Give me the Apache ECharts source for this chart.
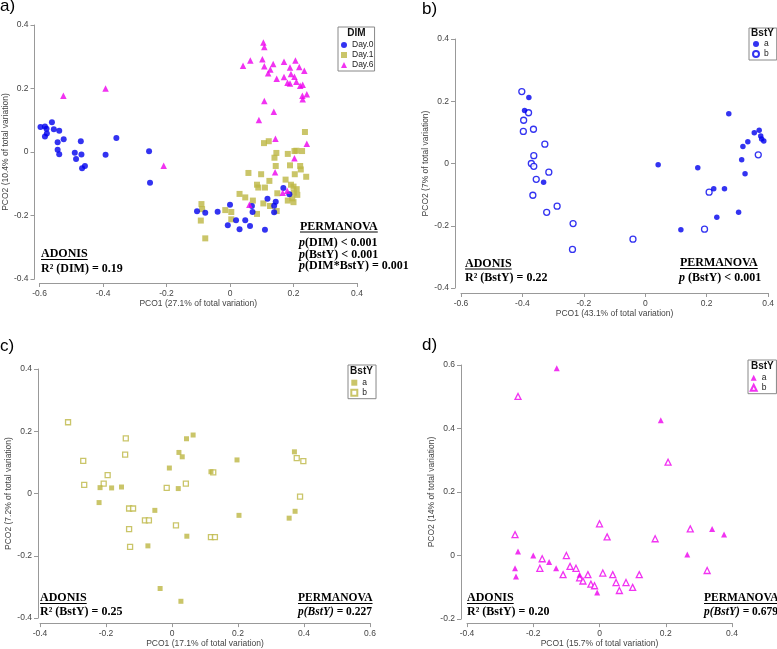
<!DOCTYPE html>
<html><head><meta charset="utf-8">
<script src="https://cdn.jsdelivr.net/npm/echarts@6/dist/echarts.min.js"></script>
<style>html,body{margin:0;padding:0;background:#fff}#c{width:777px;height:649px}</style>
</head><body><div id="c"></div>
<script>
// ---------------- DATA ----------------
// Panel a (DIM groups)
const aDay0 = [[-0.597,0.079],[-0.583,0.080],[-0.578,0.073],[-0.561,0.094],[-0.555,0.072],[-0.538,0.067],[-0.577,0.058],[-0.583,0.049],[-0.524,0.040],[-0.543,0.031],[-0.470,0.034],[-0.358,0.044],[-0.543,0.007],[-0.538,-0.007],[-0.489,-0.002],[-0.468,-0.008],[-0.485,-0.022],[-0.392,-0.009],[-0.255,0.002],[-0.466,-0.051],[-0.457,-0.044],[-0.252,-0.097],[-0.104,-0.187],[-0.078,-0.191],[-0.039,-0.188],[0.000,-0.166],[0.069,-0.170],[0.071,-0.189],[0.118,-0.147],[0.144,-0.157],[0.139,-0.169],[0.139,-0.190],[0.168,-0.113],[0.187,-0.133],[0.019,-0.215],[0.048,-0.215],[-0.007,-0.231],[0.030,-0.243],[0.063,-0.233],[0.110,-0.245]];
const aDay1 = [[0.236,0.063],[0.107,0.028],[0.122,0.034],[0.146,-0.003],[0.182,-0.006],[0.203,0.003],[0.227,0.003],[0.209,0.004],[0.140,-0.018],[0.144,-0.044],[0.189,-0.042],[0.221,-0.044],[0.223,-0.055],[0.240,-0.078],[0.204,-0.070],[0.058,-0.066],[0.098,-0.070],[0.124,-0.091],[0.175,-0.087],[0.085,-0.103],[0.089,-0.112],[0.110,-0.112],[0.192,-0.103],[0.200,-0.109],[0.210,-0.117],[0.201,-0.128],[0.212,-0.135],[0.149,-0.130],[0.030,-0.132],[0.048,-0.143],[0.072,-0.153],[0.105,-0.162],[0.126,-0.170],[0.182,-0.153],[0.200,-0.158],[0.196,-0.146],[0.147,-0.186],[0.085,-0.195],[0.004,-0.189],[-0.015,-0.183],[0.004,-0.212],[-0.090,-0.164],[-0.088,-0.180],[-0.092,-0.216],[-0.078,-0.272]];
const aDay6 = [[-0.525,0.177],[-0.392,0.200],[-0.209,-0.043],[0.105,0.345],[0.108,0.331],[0.041,0.272],[0.064,0.288],[0.102,0.292],[0.108,0.270],[0.136,0.277],[0.170,0.284],[0.206,0.288],[0.189,0.266],[0.218,0.268],[0.234,0.256],[0.127,0.260],[0.120,0.248],[0.147,0.231],[0.170,0.236],[0.192,0.246],[0.203,0.237],[0.181,0.218],[0.189,0.216],[0.209,0.221],[0.221,0.209],[0.229,0.212],[0.228,0.177],[0.242,0.182],[0.229,0.166],[0.108,0.161],[0.138,0.127],[0.091,0.101],[0.143,0.042],[0.242,0.026],[0.203,-0.020],[0.142,-0.064],[0.061,-0.166],[0.166,-0.128],[0.180,-0.122]];
// Panel b (Day.0, BstY a / b)
const bA = [[-0.379,0.212],[-0.393,0.170],[-0.331,-0.060],[0.042,-0.004],[0.171,-0.014],[0.314,0.012],[0.325,-0.033],[0.223,-0.081],[0.258,-0.081],[0.304,-0.157],[0.233,-0.173],[0.116,-0.213],[0.403,0.184],[0.272,0.160],[0.371,0.107],[0.355,0.099],[0.376,0.088],[0.379,0.079],[0.386,0.072],[0.401,0.070],[0.334,0.070],[0.318,0.055]];
const bB = [[-0.402,0.231],[-0.380,0.163],[-0.396,0.139],[-0.364,0.110],[-0.397,0.103],[-0.327,0.062],[-0.363,0.025],[-0.371,0.000],[-0.363,-0.009],[-0.314,-0.028],[-0.355,-0.051],[-0.366,-0.102],[-0.287,-0.137],[-0.321,-0.157],[-0.235,-0.193],[-0.237,-0.276],[-0.040,-0.243],[0.368,0.028],[0.208,-0.092],[0.193,-0.211]];
// Panel c (Day.1, BstY a / b)
const cA = [[-0.218,0.019],[-0.183,0.018],[-0.153,0.021],[-0.008,0.082],[0.021,0.132],[0.031,0.118],[0.044,0.176],[0.064,0.188],[0.019,0.016],[0.197,0.108],[0.371,0.134],[0.118,0.070],[-0.221,-0.029],[-0.052,-0.054],[-0.073,-0.168],[-0.036,-0.305],[0.027,-0.346],[0.045,-0.137],[0.203,-0.070],[0.355,-0.079],[0.373,-0.057]];
const cB = [[-0.315,0.229],[-0.269,0.105],[-0.140,0.177],[-0.142,0.125],[-0.195,0.059],[-0.266,0.028],[-0.207,0.032],[-0.016,0.018],[0.042,0.032],[0.378,0.114],[0.398,0.104],[0.125,0.068],[-0.130,-0.048],[-0.118,-0.048],[-0.130,-0.114],[-0.127,-0.171],[-0.082,-0.086],[-0.070,-0.086],[0.012,-0.102],[0.118,-0.140],[0.130,-0.140],[0.388,-0.010]];
// Panel d (Day.6, BstY a / b)
const dA = [[-0.129,0.590],[0.185,0.426],[-0.246,0.013],[-0.255,-0.040],[-0.252,-0.066],[-0.200,0.000],[-0.152,-0.020],[-0.131,-0.040],[-0.007,-0.116],[0.265,0.003],[0.340,0.084],[0.376,0.066],[-0.060,-0.060]];
const dB = [[-0.246,0.501],[0.207,0.294],[-0.255,0.066],[-0.173,-0.010],[-0.180,-0.040],[-0.089,-0.034],[-0.071,-0.040],[-0.060,-0.070],[-0.050,-0.080],[-0.035,-0.060],[-0.026,-0.090],[-0.015,-0.095],[0.000,0.100],[0.023,0.059],[0.010,-0.055],[0.040,-0.060],[0.050,-0.085],[0.060,-0.110],[0.080,-0.085],[0.100,-0.100],[0.120,-0.060],[0.168,0.053],[0.274,0.084],[0.325,-0.047],[-0.110,-0.060],[-0.100,0.000]];
// Axis ranges [min, max]
const aX = [-0.6, 0.4], aY = [-0.4, 0.4];
const bX = [-0.6, 0.4], bY = [-0.4, 0.4];
const cX = [-0.4, 0.6], cY = [-0.4, 0.4];
const dX = [-0.4, 0.4], dY = [-0.2, 0.6];
const axisNamesX = ['PCO1 (27.1% of total variation)','PCO1 (43.1% of total variation)','PCO1 (17.1% of total variation)','PCO1 (15.7% of total variation)'];
const axisNamesY = ['PCO2 (10.4% of total variation)','PCO2 (7% of total variation)','PCO2 (7.2% of total variation)','PCO2 (14% of total variation)'];

// ---------------- STYLE ----------------
const BLUE = '#0000ee', OLIVE = '#bdb744', MAG = '#ee00ee';
const SANS = '"Liberation Sans", Arial, sans-serif';
const SERIF = '"Liberation Serif", "Times New Roman", serif';
const fmt = v => { const r = Math.round(v * 10) / 10; return r === 0 ? '0' : String(r); };

function xAx(gi, r, name, offset) {
  return { gridIndex: gi, type: 'value', min: r[0], max: r[1], interval: 0.2, offset,
    name, nameLocation: 'middle', nameGap: 15,
    nameTextStyle: { fontSize: 8.5, color: '#444', fontFamily: SANS },
    axisLine: { onZero: false, lineStyle: { color: '#999' } },
    axisTick: { length: 4, lineStyle: { color: '#999' } },
    axisLabel: { fontSize: 8.5, color: '#444', margin: 6, fontFamily: SANS, formatter: fmt },
    splitLine: { show: false } };
}
function yAx(gi, r, name, offset, gap) {
  return { gridIndex: gi, type: 'value', min: r[0], max: r[1], interval: 0.2, offset,
    name, nameLocation: 'middle', nameGap: gap,
    nameTextStyle: { fontSize: 8.5, color: '#444', fontFamily: SANS },
    axisLine: { show: true, onZero: false, lineStyle: { color: '#999' } },
    axisTick: { show: true, length: 4, lineStyle: { color: '#999' } },
    axisLabel: { fontSize: 8.5, color: '#444', margin: 6, fontFamily: SANS, formatter: fmt },
    splitLine: { show: false } };
}
function sc(name, gi, data, symbol, size, color, open, z) {
  return { type: 'scatter', name, xAxisIndex: gi, yAxisIndex: gi, data, symbol, symbolSize: size, z,
    itemStyle: open ? { color: '#fff', borderColor: color, borderWidth: 1.3 } : { color: color, borderWidth: 0 },
    emphasis: { disabled: true }, animation: false };
}
function lg(names, left, top, pad) {
  return { data: names, orient: 'vertical', left, top, padding: pad, itemGap: 0, itemWidth: 6, itemHeight: 6,
    selectedMode: false, formatter: n => n.indexOf(':') >= 0 ? n.split(':')[1] : n,
    textStyle: { fontSize: 8.5, lineHeight: 10, color: '#222', fontFamily: SANS },
    borderColor: '#888', borderWidth: 1, backgroundColor: '#fff', borderRadius: 0 };
}

// text helpers
const mctx = document.createElement('canvas').getContext('2d');
function tw(s, size) { mctx.font = 'bold ' + size + 'px ' + SERIF; return mctx.measureText(s).width; }
function boldTxt(x, y, text, fs) {
  return { type: 'text', x, y, z: 100, style: { text, fontSize: fs, fontWeight: 'bold', fontFamily: SERIF, fill: '#000', align: 'left', verticalAlign: 'middle' } };
}
function richTxt(x, y, text, fs) {
  fs = fs || 12;
  const base = { fontSize: fs, fontWeight: 'bold', fontFamily: SERIF, fill: '#000' };
  return { type: 'text', x, y, z: 100, style: Object.assign({ text, align: 'left', verticalAlign: 'middle',
    rich: { i: Object.assign({ fontStyle: 'italic' }, base), n: Object.assign({}, base) } }, base) };
}
function uline(x, y, text, fs) {
  return { type: 'line', z: 100, shape: { x1: x, y1: y, x2: x + tw(text, fs), y2: y }, style: { stroke: '#000', lineWidth: 1 } };
}
function heading(x, y, text, fs) { fs = fs || 12; return [boldTxt(x, y, text, fs), uline(x, y + 5.5, text, fs)]; }
function panelLabel(x, y, t) {
  return { type: 'text', x, y, z: 100, style: { text: t, fontSize: 17, fontFamily: SANS, fill: '#000', verticalAlign: 'top' } };
}
function legTitle(x, y, t) {
  return { type: 'text', x, y, z: 100, style: { text: t, fontSize: 10, fontWeight: 'bold', fontFamily: SANS, fill: '#111', align: 'center', verticalAlign: 'middle' } };
}

const graphics = [].concat(
  panelLabel(0, -2, 'a)'), panelLabel(422, 1, 'b)'), panelLabel(0, 338, 'c)'), panelLabel(422, 337, 'd)'),
  legTitle(356.5, 33.5, 'DIM'), legTitle(762.5, 33, 'BstY'), legTitle(361.5, 371.5, 'BstY'), legTitle(762.3, 366.3, 'BstY'),
  // a
  heading(41, 254, 'ADONIS'), richTxt(41, 269, '{n|R² (DIM) = 0.19}'),
  heading(300, 226.5, 'PERMANOVA'),
  richTxt(299, 243, '{i|p}{n|(DIM) < 0.001}'),
  richTxt(299, 254.5, '{i|p}{n|(BstY) < 0.001}'),
  richTxt(299, 266, '{i|p}{n|(DIM*BstY) = 0.001}'),
  // b
  heading(465, 263.5, 'ADONIS'), richTxt(465, 278, '{n|R² (BstY) = 0.22}'),
  heading(680, 263, 'PERMANOVA'), richTxt(679, 278, '{i|p}{n| (BstY) < 0.001}'),
  // c
  heading(40, 598, 'ADONIS'), richTxt(40, 612, '{n|R² (BstY) = 0.25}'),
  heading(298, 598, 'PERMANOVA', 11.5), richTxt(298, 612, '{i|p(BstY)}{n| = 0.227}', 11.5),
  // d
  heading(467, 598, 'ADONIS'), richTxt(467, 612, '{n|R² (BstY) = 0.20}'),
  heading(704, 598, 'PERMANOVA', 11.5), richTxt(704, 612, '{i|p(BstY)}{n| = 0.679}', 11.5)
);

const option = {
  animation: false,
  backgroundColor: '#fff',
  grid: [
    { left: 39, top: 25, width: 318, height: 254 },
    { left: 461, top: 39, width: 309, height: 249 },
    { left: 40, top: 369, width: 330, height: 251 },
    { left: 467, top: 365, width: 265, height: 256 }
  ],
  xAxis: [ xAx(0, aX, axisNamesX[0], 4), xAx(1, bX, axisNamesX[1], 5), xAx(2, cX, axisNamesX[2], 5), xAx(3, dX, axisNamesX[3], 4) ],
  yAxis: [ yAx(0, aY, axisNamesY[0], 5, 21), yAx(1, bY, axisNamesY[1], 6, 22), yAx(2, cY, axisNamesY[2], 2, 24), yAx(3, dY, axisNamesY[3], 6, 24) ],
  legend: [
    lg(['Day.0', 'Day.1', 'Day.6'], 338, 27, [13, 1, 1, 3]),
    lg(['b:a', 'b:b'], 749, 28, [11, 8, 1, 3]),
    lg(['c:a', 'c:b'], 348, 365, [12.7, 9, 1, 2.3]),
    lg(['d:a', 'd:b'], 748, 360, [12.7, 10, 1, 1.7])
  ],
  series: [
    sc('Day.1', 0, aDay1, 'rect', 6, OLIVE, false, 2),
    sc('Day.0', 0, aDay0, 'circle', 6, BLUE, false, 3),
    sc('Day.6', 0, aDay6, 'triangle', 6.5, MAG, false, 4),
    sc('b:b', 1, bB, 'circle', 6, BLUE, true, 2),
    sc('b:a', 1, bA, 'circle', 5.5, BLUE, false, 3),
    sc('c:b', 2, cB, 'rect', 5, OLIVE, true, 2),
    sc('c:a', 2, cA, 'rect', 5, OLIVE, false, 3),
    sc('d:b', 3, dB, 'triangle', 6, MAG, true, 2),
    sc('d:a', 3, dA, 'triangle', 6, MAG, false, 3)
  ],
  graphic: { elements: graphics }
};
const chart = echarts.init(document.getElementById('c'), null, { renderer: 'canvas' });
chart.setOption(option);
</script></body></html>
